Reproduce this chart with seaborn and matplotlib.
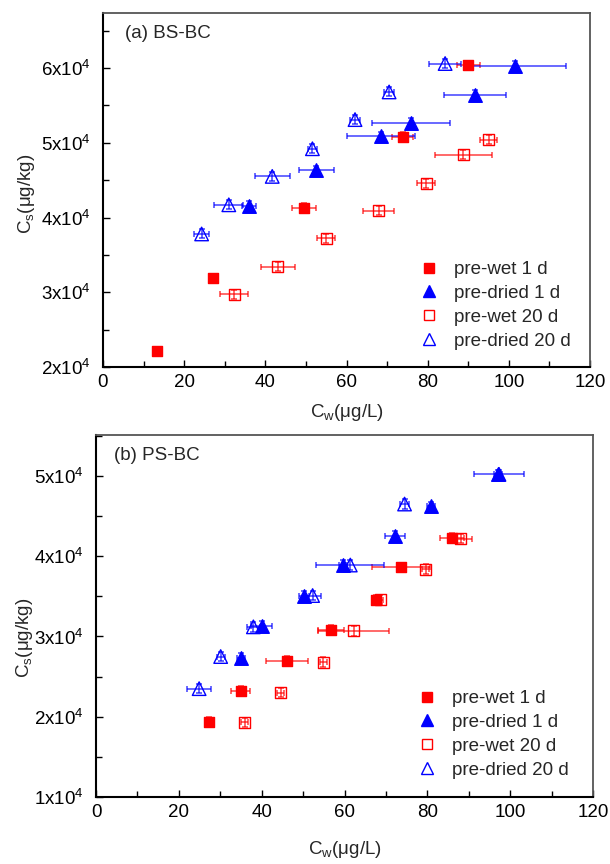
import numpy as np
import pandas as pd
import matplotlib
matplotlib.use("Agg")
import matplotlib.pyplot as plt
import seaborn as sns
from matplotlib.lines import Line2D
from matplotlib.ticker import MultipleLocator, FuncFormatter

# ---------------- data ----------------
labels = ["pre-wet 1 d", "pre-dried 1 d", "pre-wet 20 d", "pre-dried 20 d"]

# (a) BS-BC
a_wet1_x = [13.2, 27.0, 49.6, 73.8, 90.0]
a_wet1_y = [2.21e4, 3.19e4, 4.13e4, 5.08e4, 6.04e4]
a_wet1_xerr = [0.5, 0.5, 3.0, 2.7, 2.8]

a_dry1_x = [36.0, 52.6, 68.5, 76.0, 91.6, 101.5]
a_dry1_y = [4.16e4, 4.63e4, 5.09e4, 5.27e4, 5.64e4, 6.03e4]
a_dry1_xerr = [1.8, 4.3, 8.3, 9.6, 7.6, 12.6]

a_wet20_x = [32.3, 43.1, 55.0, 67.9, 79.6, 88.8, 95.0]
a_wet20_y = [2.97e4, 3.34e4, 3.72e4, 4.09e4, 4.46e4, 4.84e4, 5.04e4]
a_wet20_xerr = [3.4, 4.2, 2.2, 3.9, 2.3, 7.0, 2.1]

a_dry20_x = [24.3, 31.0, 41.7, 51.6, 62.1, 70.5, 84.3]
a_dry20_y = [3.78e4, 4.17e4, 4.55e4, 4.92e4, 5.31e4, 5.68e4, 6.06e4]
a_dry20_xerr = [1.8, 3.6, 4.3, 1.2, 1.2, 1.2, 3.9]

# (b) PS-BC
b_wet1_x = [27.3, 35.0, 46.2, 56.8, 67.6, 73.7, 86.0]
b_wet1_y = [1.94e4, 2.32e4, 2.70e4, 3.08e4, 3.46e4, 3.86e4, 4.23e4]
b_wet1_xerr = [0.5, 2.3, 5.1, 3.1, 1.0, 7.0, 2.9]

b_dry1_x = [35.0, 40.0, 50.2, 59.7, 72.1, 80.9, 97.0]
b_dry1_y = [2.73e4, 3.13e4, 3.51e4, 3.89e4, 4.25e4, 4.62e4, 5.02e4]
b_dry1_xerr = [1.0, 2.6, 1.2, 1.0, 2.4, 1.0, 1.0]

b_wet20_x = [35.9, 44.6, 54.9, 62.2, 68.6, 79.6, 88.1]
b_wet20_y = [1.93e4, 2.30e4, 2.68e4, 3.07e4, 3.46e4, 3.84e4, 4.22e4]
b_wet20_xerr = [0.8, 0.8, 0.8, 8.5, 0.8, 0.8, 2.7]

b_dry20_x = [24.9, 30.1, 38.0, 52.3, 61.4, 74.5, 97.3]
b_dry20_y = [2.35e4, 2.75e4, 3.12e4, 3.51e4, 3.89e4, 4.65e4, 5.02e4]
b_dry20_xerr = [2.9, 1.0, 1.6, 2.0, 8.2, 1.0, 6.0]

y_err = 600.0

# ---------------- style ----------------
sns.set_style("ticks")
plt.rcParams["font.family"] = ["Liberation Sans", "DejaVu Sans"]
plt.rcParams["mathtext.fontset"] = "custom"
plt.rcParams["mathtext.rm"] = "Liberation Sans"
plt.rcParams["mathtext.it"] = "Liberation Sans:italic"
plt.rcParams["mathtext.bf"] = "Liberation Sans:bold"

RED = "#ff0000"
BLUE = "#0000ff"
styles = {
    "pre-wet 1 d": dict(marker="s", fc=RED, ec=RED, s=58, color=RED),
    "pre-dried 1 d": dict(marker="^", fc=BLUE, ec=BLUE, s=95, color=BLUE),
    "pre-wet 20 d": dict(marker="s", fc="none", ec=RED, s=62, color=RED),
    "pre-dried 20 d": dict(marker="^", fc="none", ec=BLUE, s=95, color=BLUE),
}

FS = 13.5

fig = plt.figure(figsize=(6.10, 8.64), dpi=100)
ax_a = fig.add_axes([103/610, 1-367/864, (590-103)/610, (367-12.7)/864])
ax_b = fig.add_axes([96/610, 1-797/864, (593-96)/610, (797-435)/864])


def sci_fmt(v, pos):
    m = v / 1e4
    return r"%dx10$^{4}$" % int(round(m))


def draw(ax, series, ylim, title, tx, leg_anchor):
    for lab, (xs, ys, xe) in zip(labels, series):
        st = styles[lab]
        ax.errorbar(xs, ys, xerr=xe, yerr=[y_err]*len(ys), fmt="none",
                    ecolor=st["color"], elinewidth=1.1, capsize=2.3,
                    capthick=1.1, alpha=0.75, zorder=2)
    for lab, (xs, ys, xe) in zip(labels, series):
        st = styles[lab]
        df = pd.DataFrame({"x": xs, "y": ys})
        sns.scatterplot(data=df, x="x", y="y", ax=ax, marker=st["marker"],
                        s=st["s"], facecolor=st["fc"], edgecolor=st["ec"],
                        linewidth=1.0, zorder=3, legend=False)
    ax.set_xlim(0, 120)
    ax.set_ylim(*ylim)
    ax.xaxis.set_major_locator(MultipleLocator(20))
    ax.xaxis.set_minor_locator(MultipleLocator(10))
    ax.yaxis.set_major_locator(MultipleLocator(1e4))
    ax.yaxis.set_minor_locator(MultipleLocator(5e3))
    ax.yaxis.set_major_formatter(FuncFormatter(sci_fmt))
    ax.tick_params(axis="both", which="both", direction="in", labelsize=FS,
                   colors="black")
    ax.tick_params(axis="both", which="major", length=5, width=1.0)
    ax.tick_params(axis="both", which="minor", length=4, width=1.0)
    ax.tick_params(axis="x", pad=5)
    ax.tick_params(axis="y", pad=9)
    for sp in ["left", "bottom"]:
        ax.spines[sp].set_color("black")
        ax.spines[sp].set_linewidth(1.5)
    for sp in ["top", "right"]:
        ax.spines[sp].set_visible(True)
        ax.spines[sp].set_color("#555555")
        ax.spines[sp].set_linewidth(1.3)
    ax.set_xlabel(r"C$_\mathrm{w}$(μg/L)", fontsize=FS)
    ax.set_ylabel(r"C$_\mathrm{s}$(μg/kg)", fontsize=FS)
    ax.text(tx, 0.942, title, transform=ax.transAxes, fontsize=13.5,
            va="center", ha="left")
    handles = []
    for lab in labels:
        st = styles[lab]
        handles.append(Line2D([], [], linestyle="none", marker=st["marker"],
                              markerfacecolor=st["fc"],
                              markeredgecolor=st["ec"],
                              markersize=8.5 if st["marker"] == "^" else 7.5,
                              markeredgewidth=1.0))
    ax.legend(handles, labels, loc="upper left", bbox_to_anchor=leg_anchor,
              bbox_transform=fig.transFigure, frameon=False, fontsize=FS,
              handlelength=0.9, handletextpad=0.85, labelspacing=0.36,
              borderpad=0, borderaxespad=0)


series_a = [(a_wet1_x, a_wet1_y, a_wet1_xerr), (a_dry1_x, a_dry1_y, a_dry1_xerr),
            (a_wet20_x, a_wet20_y, a_wet20_xerr), (a_dry20_x, a_dry20_y, a_dry20_xerr)]
series_b = [(b_wet1_x, b_wet1_y, b_wet1_xerr), (b_dry1_x, b_dry1_y, b_dry1_xerr),
            (b_wet20_x, b_wet20_y, b_wet20_xerr), (b_dry20_x, b_dry20_y, b_dry20_xerr)]

draw(ax_a, series_a, (2e4, 6.74e4), "(a) BS-BC", 0.045, (421/610, 1-261/864))
draw(ax_b, series_b, (1e4, 5.51e4), "(b) PS-BC", 0.036, (419/610, 1-690/864))

ax_a.yaxis.set_label_coords(-0.135, 0.49)
ax_b.yaxis.set_label_coords(-0.123, 0.44)
ax_a.xaxis.set_label_coords(0.5, -0.10)
ax_b.xaxis.set_label_coords(0.5, -0.115)

fig.savefig("out.png", dpi=100)
